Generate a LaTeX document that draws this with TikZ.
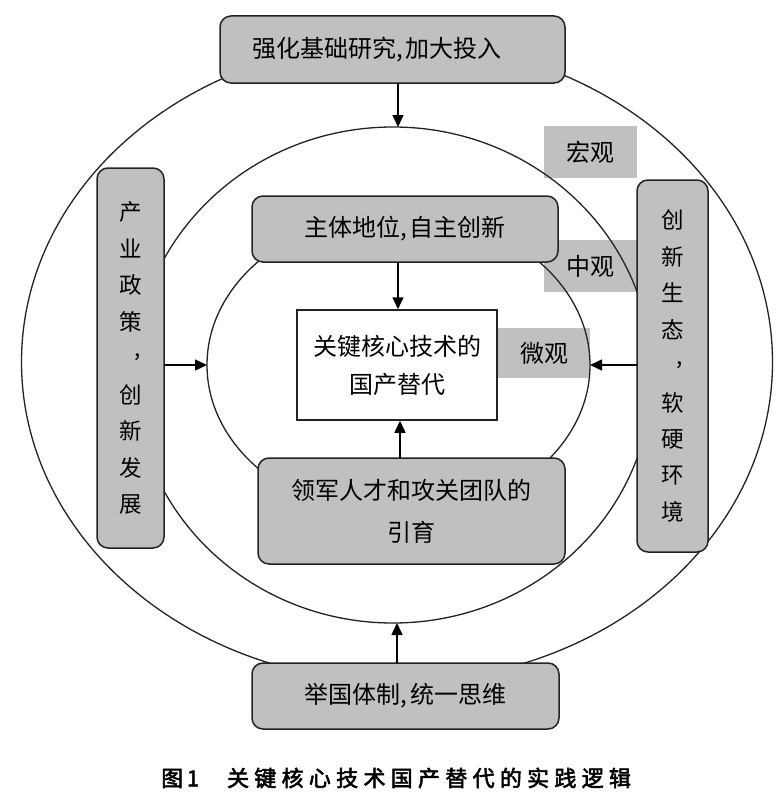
\documentclass[tikz,border=0pt]{standalone}
\usepackage{fontspec}
\setmainfont{Noto Sans CJK SC}
\newfontfamily\capfont[FakeBold=2.5]{Noto Sans CJK SC}
\usetikzlibrary{shapes.geometric,arrows.meta}
\definecolor{boxgray}{RGB}{192,192,192}
\definecolor{edge}{RGB}{35,35,35}
\newcommand\vcomma{\makebox[0pt]{\hspace{14pt}\raisebox{10pt}{,}}}
\newcommand\cma{,\hspace{3pt}}
\begin{document}
\begin{tikzpicture}[x=1pt,y=-1pt,
  ring/.style={draw=edge, line width=1.3pt, ellipse, inner sep=0pt, outer sep=0pt},
  gbox/.style={draw=edge, fill=boxgray, line width=1.5pt, rounded corners=11pt, inner sep=0pt, outer sep=0pt, font=\fontsize{24}{38}\selectfont, align=center},
  vbox/.style={gbox, font=\fontsize{22.5}{36.5}\selectfont},
  tag/.style={fill=boxgray, inner sep=0pt, font=\fontsize{24}{28}\selectfont},
  arr/.style={draw=black, line width=1.5pt, -{Triangle[length=12pt,width=11pt]}},
]
\useasboundingbox (0,0) rectangle (783,800);
\fill[white] (0,0) rectangle (783,800);
% level labels
\node[tag, minimum width=93pt, minimum height=52pt] (macro) at (590.5,152) {宏观};
\node[tag, minimum width=93pt, minimum height=52pt] (meso) at (590.5,266) {中观};
\node[tag, minimum width=92pt, minimum height=50pt] (micro) at (544,353) {微观};
% rings
\node[ring, minimum width=751pt, minimum height=640pt] (outer) at (397,362) {};
\node[ring, minimum width=518pt, minimum height=496pt] (middle) at (393,375) {};
\node[ring, minimum width=383pt, minimum height=304pt] (inner) at (398.5,365) {};
% boxes
\node[gbox, align=left, text width=281pt, inner xsep=32pt, minimum height=67pt] (top) at (392.5,49.5) {强化基础研究\cma 加大投入};
\node[gbox, minimum width=306pt, minimum height=66pt] (subj) at (405,229) {主体地位\cma 自主创新};
\node[draw=edge, fill=white, line width=1.5pt, inner sep=0pt, minimum width=200pt, minimum height=110pt, align=center, font=\fontsize{24}{38}\selectfont] (core) at (397,365) {关键核心技术的\\国产替代};
\node[gbox, minimum width=307pt, minimum height=106pt, font=\fontsize{24}{42}\selectfont] (talent) at (411.5,511) {领军人才和攻关团队的\\引育};
\node[gbox, minimum width=307pt, minimum height=66pt] (nation) at (405.5,696) {举国体制\cma 统一思维};
\node[vbox, minimum width=67pt, minimum height=380pt] (left) at (130.5,358) {产\\业\\政\\策\\\vcomma\\创\\新\\发\\展};
\node[vbox, minimum width=71pt, minimum height=372pt] (right) at (672.5,366) {创\\新\\生\\态\\\vcomma\\软\\硬\\环\\境};
% arrows
\draw[arr] ([xshift=5.5pt]top.south) -- ([xshift=5.5pt]top.south |- middle.north);
\draw[arr] ([xshift=-7pt]subj.south) -- ([xshift=-7pt]subj.south |- core.north);
\draw[arr] ([xshift=-11.5pt]talent.north) -- ([xshift=-11.5pt]talent.north |- core.south);
\draw[arr] ([xshift=-8.5pt]nation.north) -- ([xshift=-8.5pt]nation.north |- middle.south);
\draw[arr] (left.east |- inner.west) -- (inner.west);
\draw[arr] (right.west |- inner.east) -- (inner.east);
% caption
\node[anchor=west, inner sep=0pt, font=\capfont\fontsize{22}{26}\selectfont] (cap) at (161,778) {图\,1\hspace{28pt}\addfontfeature{LetterSpace=24}关键核心技术国产替代的实践逻辑};
\end{tikzpicture}
\end{document}
